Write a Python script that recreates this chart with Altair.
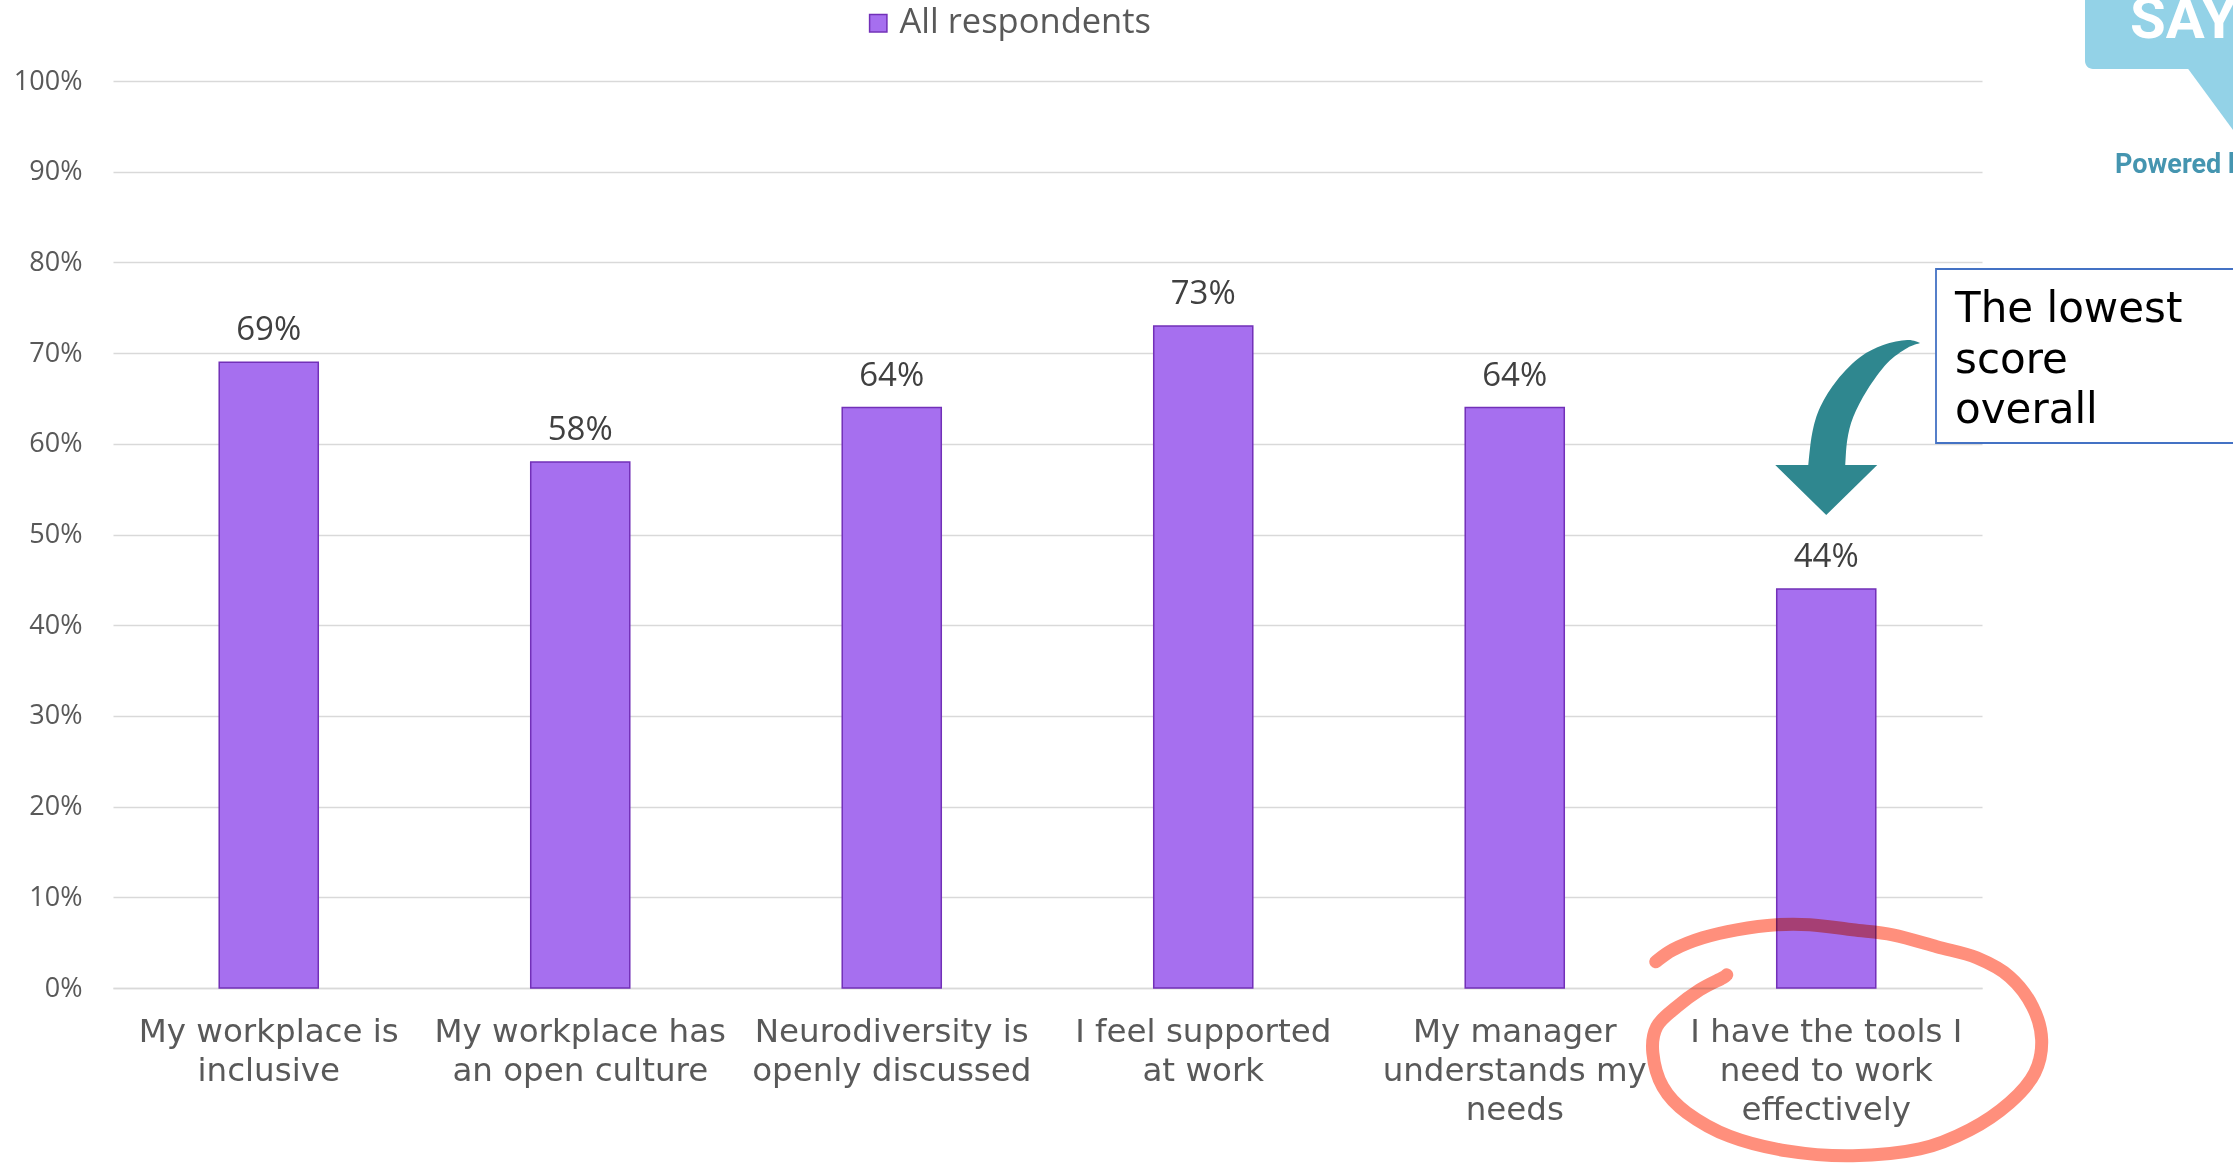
import altair as alt
import pandas as pd

# ---------------- data ----------------
categories = [
    "My workplace is|inclusive",
    "My workplace has|an open culture",
    "Neurodiversity is|openly discussed",
    "I feel supported|at work",
    "My manager|understands my|needs",
    "I have the tools I|need to work|effectively",
]
values = [69, 58, 64, 73, 64, 44]
series_name = "All respondents"
y_ticks = [0, 10, 20, 30, 40, 50, 60, 70, 80, 90, 100]
callout_lines = ["The lowest", "score", "overall"]
logo_word = "SAY"
logo_tagline = "Powered by"

df = pd.DataFrame({"category": categories, "value": values, "series": series_name})

# ---------------- style ----------------
W, H = 1869, 907
FILL = "#A66FEF"
STROKE = "#7230B8"
GRID = "#D9D9D9"
LABEL = "#595959"


def smooth_segments(pts):
    """Catmull-Rom -> cubic Bezier segments (no leading M)."""
    n = len(pts)
    out = []
    for i in range(n - 1):
        p0 = pts[i - 1] if i > 0 else pts[i]
        p1 = pts[i]
        p2 = pts[i + 1]
        p3 = pts[i + 2] if i + 2 < n else pts[i + 1]
        c1 = (p1[0] + (p2[0] - p0[0]) / 6, p1[1] + (p2[1] - p0[1]) / 6)
        c2 = (p2[0] - (p3[0] - p1[0]) / 6, p2[1] - (p3[1] - p1[1]) / 6)
        out.append("C%.3f,%.3f %.3f,%.3f %.3f,%.3f" % (c1[0], c1[1], c2[0], c2[1], p2[0], p2[1]))
    return " ".join(out)


# curved arrow outline (unit square shape)
arrow_outer = [(0.83, -0.955), (0.682, -0.989), (0.409, -0.932), (0.148, -0.795),
               (-0.114, -0.534), (-0.307, -0.227), (-0.398, 0.068), (-0.443, 0.432)]
arrow_inner = [(-0.023, 0.432), (0.0, 0.148), (0.068, -0.114), (0.227, -0.42),
               (0.455, -0.727), (0.682, -0.898), (0.83, -0.955)]
ARROW_PATH = ("M%.3f,%.3f " % arrow_outer[0] + smooth_segments(arrow_outer)
              + " L-0.818,0.432 L-0.239,1.0 L0.341,0.432 L-0.023,0.432 "
              + smooth_segments(arrow_inner) + " Z")

# hand-drawn loop (unit square shape)
loop_pts = [(-0.982, -0.395), (-0.895, -0.456), (-0.741, -0.518), (-0.567, -0.559),
            (-0.362, -0.585), (-0.192, -0.585), (0.028, -0.559), (0.233, -0.533),
            (0.459, -0.472), (0.664, -0.415), (0.833, -0.318), (0.951, -0.164),
            (0.997, 0.005), (0.962, 0.174), (0.833, 0.328), (0.628, 0.467),
            (0.372, 0.565), (0.028, 0.6), (-0.31, 0.575), (-0.603, 0.5),
            (-0.823, 0.379), (-0.946, 0.246), (-0.997, 0.072), (-0.977, -0.062),
            (-0.874, -0.164), (-0.756, -0.251), (-0.638, -0.313), (-0.618, -0.328)]
LOOP_PATH = "M%.3f,%.3f " % loop_pts[0] + smooth_segments(loop_pts)

TAIL_PATH = "M-1,-0.92 L1,-0.92 L0.35,0.92 Z"

# ---------------- encodings ----------------
x_enc = alt.X(
    "category:N",
    sort=categories,
    scale=alt.Scale(paddingInner=0.682, paddingOuter=0.341),
    axis=alt.Axis(
        title=None,
        labelExpr="split(datum.label, '|')",
        labelFont="DejaVu Sans",
        labelFontSize=32.5,
        labelColor=LABEL,
        labelLineHeight=39,
        labelPadding=27,
        labelAngle=0,
        labelLimit=500,
        labelOverlap=False,
        ticks=False,
        domainColor=GRID,
        domainWidth=1.5,
        grid=False,
    ),
)
y_enc = alt.Y(
    "value:Q",
    scale=alt.Scale(domain=[0, 100]),
    axis=alt.Axis(
        title=None,
        values=y_ticks,
        labelExpr="datum.value + '%'",
        labelFont="Open Sans",
        labelFontSize=27,
        labelColor=LABEL,
        labelPadding=31,
        ticks=False,
        domain=False,
        gridColor=GRID,
        gridWidth=1.5,
    ),
)

bars = alt.Chart(df).mark_bar(stroke=STROKE, strokeWidth=1.5).encode(
    x=x_enc,
    y=y_enc,
    color=alt.Color(
        "series:N",
        scale=alt.Scale(range=[FILL]),
        legend=alt.Legend(
            title=None,
            orient="none",
            legendX=748,
            legendY=-75,
            symbolType="square",
            symbolSize=300,
            symbolStrokeColor=STROKE,
            symbolStrokeWidth=1.5,
            labelFont="Open Sans",
            labelFontSize=34.5,
            labelColor=LABEL,
            labelOffset=4,
            labelLimit=600,
        ),
    ),
)

value_labels = (
    alt.Chart(df)
    .transform_calculate(label="datum.value + '%'")
    .mark_text(dy=-22, baseline="alphabetic", font="Open Sans", fontSize=33, color="#404040")
    .encode(x=x_enc, y=y_enc, text="label:N")
)

anchor = pd.DataFrame({"category": [categories[-1]], "value": [61.85]})
arrow = alt.Chart(anchor).mark_point(
    shape=ARROW_PATH, size=30976, filled=True, fill="#2F878F", strokeWidth=0, opacity=1, xOffset=21
).encode(x=x_enc, y=y_enc)

loop_anchor = pd.DataFrame({"category": [categories[-1]], "value": [-5.6]})
loop = alt.Chart(loop_anchor).mark_point(
    shape=LOOP_PATH, size=152100, filled=False, stroke="#FF8F7C", strokeWidth=13,
    strokeCap="round", strokeJoin="round", opacity=1, blend="multiply", xOffset=21
).encode(x=x_enc, y=y_enc)

one = pd.DataFrame({"k": [0]})
box = alt.Chart(one).mark_rect(fill="white", stroke="#4472C4", strokeWidth=1.8).encode(
    x=alt.value(1823), x2=alt.value(2122), y=alt.value(188), y2=alt.value(362)
)
box_text = alt.Chart(one).mark_text(
    text=callout_lines, align="left", baseline="alphabetic", font="DejaVu Sans",
    fontSize=42, lineHeight=50.5, color="black"
).encode(x=alt.value(1842), y=alt.value(241))

bubble = alt.Chart(one).mark_rect(fill="#93D2E7", cornerRadius=8).encode(
    x=alt.value(1972), x2=alt.value(2220), y=alt.value(-130), y2=alt.value(-12)
)
bubble_tail = alt.Chart(one).mark_point(
    shape=TAIL_PATH, size=5476, filled=True, fill="#93D2E7", strokeWidth=0, opacity=1
).encode(x=alt.value(2110), y=alt.value(19))
say = alt.Chart(one).mark_text(
    text=logo_word, align="left", baseline="alphabetic", font="Roboto",
    fontWeight="bold", fontSize=58, color="white"
).encode(x=alt.value(2017), y=alt.value(-43))
powered = alt.Chart(one).mark_text(
    text=logo_tagline, align="left", baseline="alphabetic", font="Roboto",
    fontWeight="bold", fontSize=27, color="#4595B0"
).encode(x=alt.value(2002), y=alt.value(92))

chart = (
    alt.layer(bars, value_labels, arrow, loop, box, box_text, bubble, bubble_tail, say, powered)
    .properties(
        width=W,
        height=H,
        autosize=alt.AutoSizeParams(type="none"),
        padding={"left": 113, "top": 81, "right": 251, "bottom": 177},
        background="white",
    )
    .configure_view(stroke=None)
)

chart.save("out.html", embed_options={"renderer": "svg", "actions": False})
